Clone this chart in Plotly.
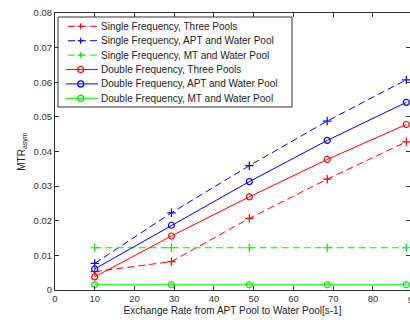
import plotly.graph_objects as go

# Data
x_rate = [10, 29.3, 48.9, 68.5, 88.4]
single_three = [0.0053, 0.0082, 0.0207, 0.0320, 0.0428]
single_apt = [0.0077, 0.0223, 0.0359, 0.0488, 0.0607]
single_mt = [0.0122, 0.0122, 0.0122, 0.0122, 0.0122]
double_three = [0.0038, 0.0156, 0.0269, 0.0377, 0.0478]
double_apt = [0.0061, 0.0187, 0.0313, 0.0432, 0.0542]
double_mt = [0.0015, 0.0015, 0.0015, 0.0015, 0.0015]
x_ticks = [0, 10, 20, 30, 40, 50, 60, 70, 80]
y_ticks = [0, 0.01, 0.02, 0.03, 0.04, 0.05, 0.06, 0.07, 0.08]
y_ticktext = ["0", "0.01", "0.02", "0.03", "0.04", "0.05", "0.06", "0.07", "0.08"]

RED, BLUE, GREEN = "#ff0000", "#0000ff", "#00ee00"
DASH = "7px,4px"
series = [
    ("Single Frequency, Three Pools", single_three, RED, DASH, "plus"),
    ("Single Frequency, APT and Water Pool", single_apt, BLUE, DASH, "plus"),
    ("Single Frequency, MT and Water Pool", single_mt, GREEN, DASH, "plus"),
    ("Double Frequency, Three Pools", double_three, RED, "solid", "circle"),
    ("Double Frequency, APT and Water Pool", double_apt, BLUE, "solid", "circle"),
    ("Double Frequency, MT and Water Pool", double_mt, GREEN, "solid", "circle"),
]

W, H = 410, 320
ML, MR, MT, MB = 55, 0, 13, 30
PL, PR, PT, PB = ML, W - MR, MT, H - MB


def px(xp):
    return (xp - PL) / (PR - PL)


def py(yp):
    return (PB - yp) / (PB - PT)


fig = go.Figure()
for name, ys, col, dash, sym in series:
    fig.add_trace(go.Scatter(
        x=x_rate, y=ys, name=name, mode="lines+markers", showlegend=False,
        line=dict(color=col, width=1, dash=dash),
        marker=dict(symbol="cross-thin-open" if sym == "plus" else "circle-open",
                    size=6 if sym == "plus" else 6, color=col,
                    line=dict(color=col, width=1.2)),
    ))

axis_common = dict(
    showline=True, linecolor="#333333", linewidth=1, mirror="ticks",
    ticks="inside", ticklen=4, tickcolor="#333333", showgrid=False, zeroline=False,
    automargin=False,
    tickfont=dict(family="Liberation Sans, Arial", size=9.5, color="#333333"),
)

shapes = []
annotations = []

# legend box
shapes.append(dict(type="rect", xref="paper", yref="paper",
                   x0=px(58), x1=px(292), y0=py(107), y1=py(17),
                   line=dict(color="#333333", width=1), fillcolor="white", layer="above"))
row_y = [26.3 + 14.4 * i for i in range(6)]
for (name, ys, col, dash, sym), yc in zip(series, row_y):
    shapes.append(dict(type="line", xref="paper", yref="paper",
                       x0=px(66 if dash == "solid" else 68), x1=px(98), y0=py(yc), y1=py(yc),
                       line=dict(color=col, width=1, dash=dash), layer="above"))
    mx = 80.7
    if sym == "plus":
        shapes.append(dict(type="line", xref="paper", yref="paper",
                           x0=px(mx - 3), x1=px(mx + 3), y0=py(yc), y1=py(yc),
                           line=dict(color=col, width=1.2), layer="above"))
        shapes.append(dict(type="line", xref="paper", yref="paper",
                           x0=px(mx), x1=px(mx), y0=py(yc - 3), y1=py(yc + 3),
                           line=dict(color=col, width=1.2), layer="above"))
    else:
        shapes.append(dict(type="circle", xref="paper", yref="paper",
                           x0=px(mx - 3), x1=px(mx + 3), y0=py(yc + 3), y1=py(yc - 3),
                           line=dict(color=col, width=1.2), layer="above"))
    annotations.append(dict(text=name, xref="paper", yref="paper", x=px(99), y=py(yc),
                            xanchor="left", yanchor="middle", showarrow=False,
                            font=dict(size=10, color="#222222")))

# partially visible "90" tick label at the clipped right edge
shapes.append(dict(type="rect", xref="paper", yref="paper",
                   x0=px(406), x1=px(420), y0=py(304), y1=py(294),
                   line=dict(width=0), fillcolor="rgba(0,0,0,0)",
                   label=dict(text="90", font=dict(size=9.5, color="#333333"),
                              textposition="middle center")))

fig.update_layout(
    width=W, height=H,
    margin=dict(l=ML, r=MR, t=MT, b=MB),
    paper_bgcolor="white", plot_bgcolor="white",
    font=dict(family="Liberation Sans, Arial", size=10, color="#222222"),
    xaxis=dict(range=[0, 89.33], tickvals=x_ticks,
               title=dict(text="Exchange Rate from APT Pool to Water Pool[s-1]", standoff=3,
                          font=dict(size=10)),
               **axis_common),
    yaxis=dict(range=[0, 0.08], tickvals=y_ticks, ticktext=y_ticktext,
               title=dict(text="MTR<sub>asym</sub>", standoff=6, font=dict(size=10)),
               **axis_common),
    showlegend=False,
    shapes=shapes,
    annotations=annotations,
)

fig.write_html("out.html", config={"displayModeBar": False},
               post_script="document.body.style.margin='0px';document.body.style.overflow='hidden';")
